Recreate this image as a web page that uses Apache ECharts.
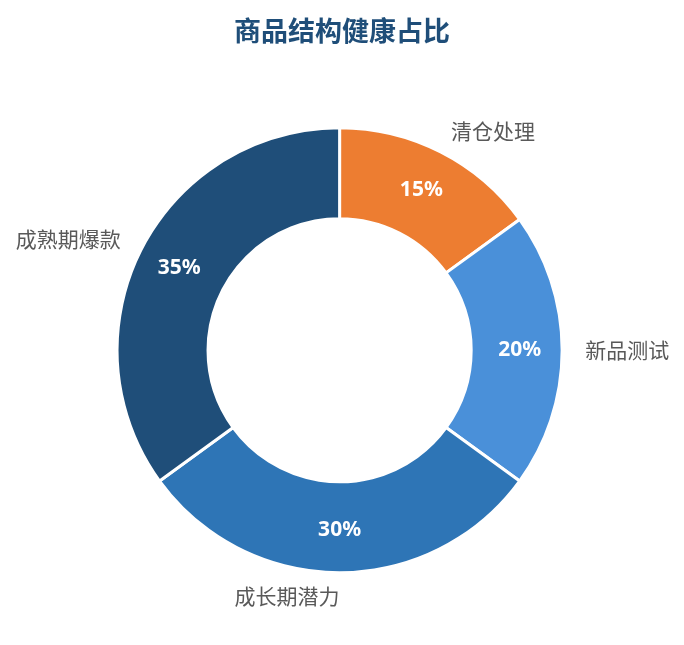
<!DOCTYPE html>
<html>
<head>
<meta charset="utf-8">
<script src="https://cdn.jsdelivr.net/npm/echarts@6/dist/echarts.min.js"></script>
<style>
html,body{margin:0;padding:0;background:#fff;}
#chart{width:684px;height:645px;}
</style>
</head>
<body>
<div id="chart"></div>
<script>
const titleText = '商品结构健康占比';
const categories = ['清仓处理', '新品测试', '成长期潜力', '成熟期爆款'];
const values = [15, 20, 30, 35];
const colors = ['#ED7D31', '#4A90D9', '#2E75B6', '#1F4E79'];

const data = categories.map((name, i) => ({ name: name, value: values[i], itemStyle: { color: colors[i] } }));

const chart = echarts.init(document.getElementById('chart'));
chart.setOption({
  backgroundColor: '#fff',
  title: {
    text: titleText,
    left: 'center',
    top: 12,
    textStyle: { fontSize: 27, fontWeight: 'bold', color: '#1F4E79', fontFamily: 'Noto Sans CJK SC' }
  },
  series: [
    {
      type: 'pie',
      center: ['49.65%', '54.3%'],
      radius: ['40.8%', '69%'],
      startAngle: 89.999,
      clockwise: true,
      animation: false,
      itemStyle: { borderColor: '#fff', borderWidth: 3 },
      label: {
        show: true,
        position: 'outside',
        formatter: '{b}',
        fontSize: 21,
        color: '#595959',
        fontFamily: 'Noto Sans CJK SC',
        distanceToLabelLine: 0
      },
      labelLine: { show: false, length: 23, length2: 0 },
      emphasis: { disabled: true },
      data: data
    },
    {
      type: 'pie',
      center: ['49.65%', '54.3%'],
      radius: ['40.8%', '69%'],
      startAngle: 89.999,
      clockwise: true,
      animation: false,
      silent: true,
      itemStyle: { color: 'rgba(0,0,0,0)', borderWidth: 0 },
      label: {
        show: true,
        position: 'inside',
        formatter: '{c}%',
        fontSize: 21,
        fontWeight: 'bold',
        color: '#fff',
        fontFamily: 'Noto Sans'
      },
      labelLine: { show: false },
      emphasis: { disabled: true },
      data: categories.map((name, i) => ({ name: name, value: values[i] }))
    }
  ]
});
</script>
</body>
</html>
